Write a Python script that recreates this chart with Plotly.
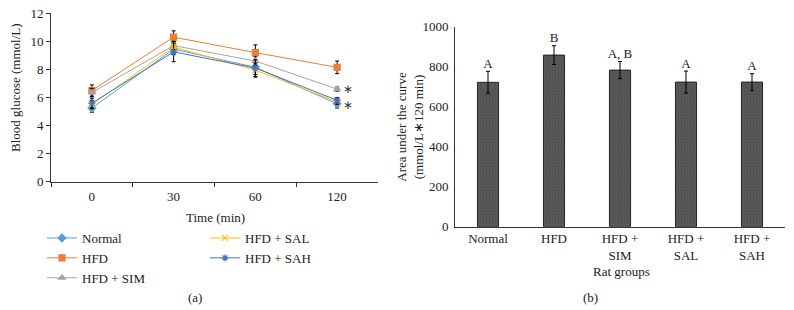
import plotly.graph_objects as go

# ---- Panel (a) data ----
times = ["0", "30", "60", "120"]
normal = [5.25, 9.45, 8.15, 5.55]
normal_err = [0.3, 0.4, 0.5, 0.3]
hfd = [6.5, 10.3, 9.2, 8.15]
hfd_err = [0.4, 0.45, 0.55, 0.45]
sim = [6.35, 9.7, 8.6, 6.6]
sim_err = [0.3, 0.3, 0.3, 0.15]
sal = [5.5, 9.6, 7.95, 5.7]
sal_err = [0.3, 0.4, 0.5, 0.2]
sah = [5.6, 9.25, 8.1, 5.8]
sah_err = [0.35, 0.7, 0.6, 0.2]
star_levels = [6.6, 5.5]

# ---- Panel (b) data ----
groups = ["Normal", "HFD", "HFD +<br>SIM", "HFD +<br>SAL", "HFD +<br>SAH"]
auc = [722, 858, 783, 723, 723]
auc_err = [55, 47, 43, 55, 42]
letters = ["A", "B", "A, B", "A", "A"]

FONT = "Liberation Serif, Times New Roman, serif"
TXT = "#222"

W, H = 794, 310


def px(x):
    return x / W


def py(y):
    return 1 - y / H


fig = go.Figure()

series = [
    ("Normal", normal, normal_err, "#5B9BD5", "diamond", 6, "legend"),
    ("HFD", hfd, hfd_err, "#ED7D31", "square", 6, "legend"),
    ("HFD + SIM", sim, sim_err, "#A5A5A5", "triangle-up", 6, "legend"),
    ("HFD + SAL", sal, sal_err, "#FFC000", "x-thin", 6, "legend2"),
    ("HFD + SAH", sah, sah_err, "#4472C4", "asterisk", 6, "legend2"),
]
for name, vals, errs, col, sym, sz, leg in series:
    fig.add_trace(go.Scatter(
        x=times, y=vals, name=name, mode="lines+markers",
        line=dict(color=col, width=1),
        marker=dict(symbol=sym, size=sz, color=col, line=dict(color=col, width=1.2)),
        error_y=dict(type="data", array=errs, visible=True, color="black", thickness=1, width=2),
        xaxis="x", yaxis="y", legend=leg,
    ))

fig.add_trace(go.Bar(
    x=groups, y=auc, showlegend=False,
    marker=dict(color="#5a5a5a", line=dict(color="#222", width=1),
                pattern=dict(shape=".", fillmode="overlay", fgcolor="#3c3c3c", size=3, solidity=0.35)),
    error_y=dict(type="data", array=auc_err, visible=True, color="black", thickness=1, width=2),
    xaxis="x2", yaxis="y2",
))
fig.add_trace(go.Scatter(
    x=groups, y=[a + e for a, e in zip(auc, auc_err)], mode="text", text=letters,
    textposition="top center", textfont=dict(family=FONT, size=13, color=TXT),
    showlegend=False, xaxis="x2", yaxis="y2", hoverinfo="skip", cliponaxis=False,
))

axis_common = dict(showgrid=False, zeroline=False, showline=True, linecolor="#333", linewidth=1,
                   automargin=False, ticklabeloverflow="allow",
                   tickfont=dict(family=FONT, size=13, color=TXT))

tfont = dict(family=FONT, size=13, color=TXT)
annotations = [
    dict(text="(a)", x=px(195), y=py(297), xref="paper", yref="paper", yanchor="middle",
         xanchor="center", showarrow=False, font=tfont),
    dict(text="(b)", x=px(590), y=py(297), xref="paper", yref="paper", yanchor="middle",
         xanchor="center", showarrow=False, font=tfont),
    dict(text="Time (min)", x=px(215), y=py(217), xref="paper", yref="paper", yanchor="middle",
         xanchor="center", showarrow=False, font=tfont),
    dict(text="Rat groups", x=px(621), y=py(271), xref="paper", yref="paper", yanchor="middle",
         xanchor="center", showarrow=False, font=tfont),
    dict(text="Blood glucose (mmol/L)", x=px(15), y=py(88), xref="paper", yref="paper",
         xanchor="center", yanchor="middle", textangle=-90, showarrow=False, font=tfont),
    dict(text="Area under the curve<br>(mmol/L∗120 min)", x=px(410), y=py(126.7),
         xref="paper", yref="paper", xanchor="center", yanchor="middle", textangle=-90,
         showarrow=False, font=tfont),
]
last_idx = len(times) - 1
for lvl in star_levels:
    annotations.append(dict(text="∗", x=last_idx, y=lvl, xref="x", yref="y", xshift=11,
                            showarrow=False, font=dict(family=FONT, size=12, color="#333")))

fig.update_layout(
    template="none",
    width=W, height=H, margin=dict(l=0, r=0, t=0, b=0, autoexpand=False),
    paper_bgcolor="white", plot_bgcolor="white",
    font=dict(family=FONT, size=13, color=TXT),
    bargap=0.68,
    xaxis=dict(**axis_common, domain=[px(51), px(378)], type="category", range=[-0.5, 3.5],
               tickson="boundaries", ticks="outside", ticklen=4, tickcolor="#333",
               ticklabelstandoff=3, anchor="y"),
    yaxis=dict(**axis_common, domain=[py(181.7), py(13.3)], range=[0, 12], dtick=2,
               ticks="outside", ticklen=4, tickcolor="#333", anchor="x"),
    xaxis2=dict(**axis_common, domain=[px(455), px(785)], type="category", range=[-0.5, 4.5],
                ticks="", anchor="y2"),
    yaxis2=dict(**axis_common, domain=[py(226.7), py(26.7)], range=[0, 1000], dtick=200,
                ticks="", ticklabelstandoff=3, anchor="x2"),
    legend=dict(x=px(42), y=py(223), xanchor="left", yanchor="top",
                font=tfont, tracegroupgap=0, itemwidth=30, bgcolor="rgba(0,0,0,0)"),
    legend2=dict(x=px(205), y=py(223), xanchor="left", yanchor="top",
                 font=tfont, tracegroupgap=0, itemwidth=30, bgcolor="rgba(0,0,0,0)"),
    annotations=annotations,
)

# remove the page's default 8px body margin so the figure fills the window exactly
fig.write_html("out.html", config={"displayModeBar": False},
               post_script="document.body.style.margin='0';document.body.style.overflow='hidden';")
